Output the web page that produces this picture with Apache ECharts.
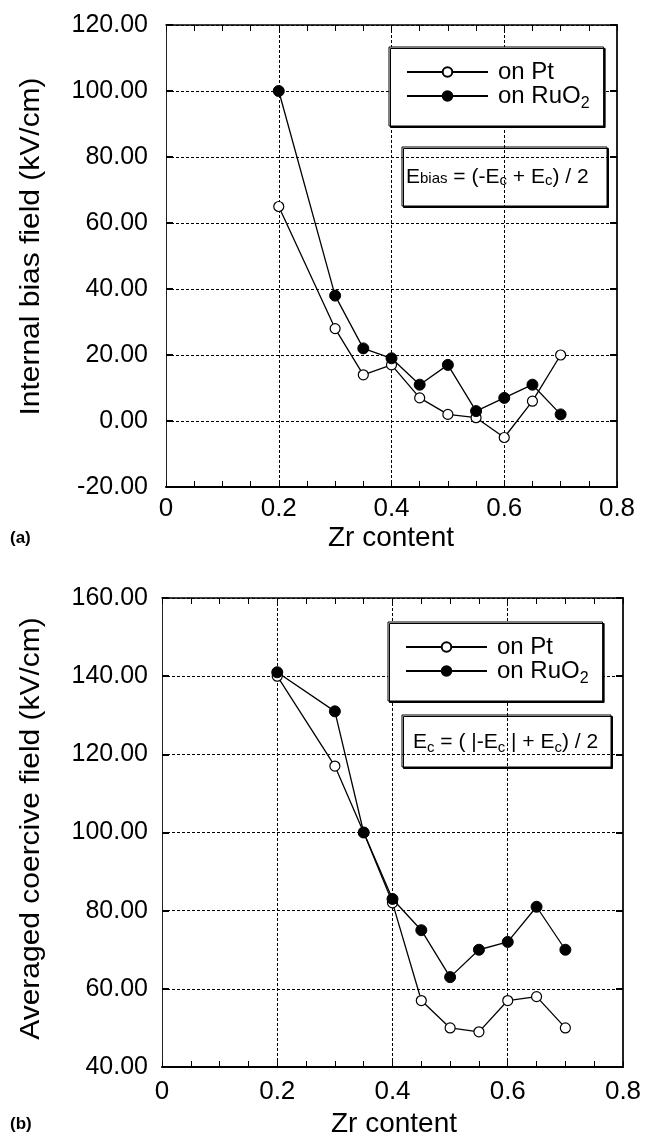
<!DOCTYPE html>
<html>
<head>
<meta charset="utf-8">
<script src="https://cdn.jsdelivr.net/npm/echarts@6/dist/echarts.min.js"></script>
<style>
  html, body { margin: 0; padding: 0; background: #fff; }
  #chart { width: 647px; height: 1143px; }
</style>
</head>
<body>
<div id="chart"></div>
<script>
// Zr content of the films
const zrContent = [0.2, 0.3, 0.35, 0.4, 0.45, 0.5, 0.55, 0.6, 0.65, 0.7];

// (a) internal bias field, kV/cm
const biasOnPt   = [65, 28, 14, 17, 7, 2, 1, -5, 6, 20];
const biasOnRuO2 = [100, 38, 22, 19, 11, 17, 3, 7, 11, 2];

// (b) averaged coercive field, kV/cm
const coerciveOnPt   = [140, 117, 100, 82, 57, 50, 49, 57, 58, 50];
const coerciveOnRuO2 = [141, 131, 100, 83, 75, 63, 70, 72, 81, 70];

// axis ranges and titles
const xRange = { min: 0, max: 0.8, interval: 0.2 };
const biasRange = { min: -20, max: 120, interval: 20 };
const coerciveRange = { min: 40, max: 160, interval: 20 };
const xTitle = 'Zr content';
const biasTitle = 'Internal bias field (kV/cm)';
const coerciveTitle = 'Averaged coercive field (kV/cm)';
const seriesNames = ['on Pt', 'on RuO2'];

const FONT = "'Liberation Sans', Arial, Helvetica, sans-serif";
const pairs = (xs, ys) => xs.map((x, i) => [x, ys[i]]);
const grid = { type: [3, 2], color: '#000', width: 1 };

function xAxes(g, labelMargin) {
  return [
    {
      type: 'value', gridIndex: g, position: 'bottom',
      min: xRange.min, max: xRange.max, interval: xRange.interval,
      axisLine: { show: true, onZero: false, lineStyle: { color: '#000', width: 2 } },
      axisTick: { show: true, inside: true, length: 6, lineStyle: { color: '#000', width: 1 } },
      minorTick: { show: true, splitNumber: 4, length: 6, lineStyle: { color: '#000', width: 1 } },
      axisLabel: {
        color: '#000', fontSize: 26, fontFamily: FONT, margin: labelMargin,
        formatter: v => (v === 0 ? '0' : v.toFixed(1))
      },
      splitLine: { show: true, lineStyle: grid }
    },
    {
      type: 'value', gridIndex: g, position: 'top',
      min: xRange.min, max: xRange.max, interval: xRange.interval,
      axisLine: { show: true, onZero: false, lineStyle: { color: '#000', width: 1.5 } },
      axisTick: { show: true, inside: true, length: 6, lineStyle: { color: '#000', width: 1 } },
      minorTick: { show: true, splitNumber: 4, length: 6, lineStyle: { color: '#000', width: 1 } },
      axisLabel: { show: false },
      splitLine: { show: false }
    }
  ];
}

function yAxes(g, range, labelMargin) {
  return [
    {
      type: 'value', gridIndex: g, position: 'left',
      min: range.min, max: range.max, interval: range.interval,
      axisLine: { show: true, onZero: false, lineStyle: { color: '#222', width: 1 } },
      axisTick: { show: true, inside: true, length: 7, lineStyle: { color: '#000', width: 2 } },
      axisLabel: {
        color: '#000', fontSize: 25, fontFamily: FONT, margin: labelMargin,
        formatter: v => v.toFixed(2)
      },
      splitLine: { show: true, lineStyle: grid }
    },
    {
      type: 'value', gridIndex: g, position: 'right',
      min: range.min, max: range.max, interval: range.interval,
      axisLine: { show: true, onZero: false, lineStyle: { color: '#222', width: 2 } },
      axisTick: { show: true, inside: true, length: 7, lineStyle: { color: '#000', width: 2 } },
      axisLabel: { show: false },
      splitLine: { show: false }
    }
  ];
}

function openSeries(name, axisIdx, data) {
  return {
    type: 'line', name, xAxisIndex: axisIdx, yAxisIndex: axisIdx, data,
    symbol: 'circle', symbolSize: 10,
    itemStyle: { color: '#fff', borderColor: '#000', borderWidth: 1.2 },
    lineStyle: { color: '#000', width: 1.3 },
    emphasis: { disabled: true }, z: 3
  };
}
function filledSeries(name, axisIdx, data) {
  return {
    type: 'line', name, xAxisIndex: axisIdx, yAxisIndex: axisIdx, data,
    symbol: 'circle', symbolSize: 11,
    itemStyle: { color: '#000', borderColor: '#000', borderWidth: 1 },
    lineStyle: { color: '#000', width: 1.3 },
    emphasis: { disabled: true }, z: 4
  };
}

function legendBox(left, top) {
  return {
    left, top, orient: 'vertical', selectedMode: false,
    data: seriesNames,
    itemWidth: 81, itemHeight: 12, itemGap: 0,
    padding: [13, 14, 14, 17],
    backgroundColor: '#fff', borderColor: '#000', borderWidth: 1,
    shadowColor: '#000', shadowOffsetX: 1.5, shadowOffsetY: 1.5, shadowBlur: 0,
    formatter: n => (n === 'on RuO2' ? 'on RuO{sub|2}' : n),
    textStyle: {
      color: '#000', fontSize: 24, fontFamily: FONT, lineHeight: 24, padding: [0, 0, 0, 5],
      rich: { sub: { fontSize: 16, fontFamily: FONT, color: '#000', lineHeight: 24, verticalAlign: 'top', padding: [12, 0, 0, 0] } }
    }
  };
}

function formulaBox(x, y, w, h, text, tx, ty, subPad, smallPad) {
  return {
    type: 'group', z: 100,
    children: [
      {
        type: 'rect', shape: { x, y, width: w, height: h },
        style: { fill: '#fff', stroke: '#000', lineWidth: 1, shadowColor: '#000', shadowOffsetX: 1.5, shadowOffsetY: 1.5, shadowBlur: 0 }
      },
      {
        type: 'text', x: tx, y: ty,
        style: {
          text, fill: '#000', fontSize: 21, fontFamily: FONT, lineHeight: 24,
          align: 'left', textAlign: 'left', verticalAlign: 'middle', textVerticalAlign: 'middle',
          rich: {
            s: { fontSize: 15, fontFamily: FONT, fill: '#000', lineHeight: 24, verticalAlign: 'top', padding: [subPad, 0, 0, 0] },
            w: { fontSize: 15, fontFamily: FONT, fill: '#000', lineHeight: 24, verticalAlign: 'top', padding: [smallPad, 0, 0, 0] }
          }
        }
      }
    ]
  };
}

function textAt(x, y, text, size, opts = {}) {
  return Object.assign({
    type: 'text', x, y, z: 100,
    style: {
      text, fill: '#000', fontSize: size, fontFamily: FONT, fontWeight: opts.bold ? 'bold' : 'normal',
      align: opts.align || 'center', textAlign: opts.align || 'center',
      verticalAlign: 'middle', textVerticalAlign: 'middle'
    }
  }, opts.transform || {});
}

const chart = echarts.init(document.getElementById('chart'), null, { renderer: 'canvas' });

chart.setOption({
  animation: false,
  backgroundColor: '#fff',
  grid: [
    { left: 166, top: 25, width: 451, height: 462 },
    { left: 162, top: 598, width: 461, height: 469 }
  ],
  xAxis: [...xAxes(0, 9), ...xAxes(1, 12)],
  yAxis: [...yAxes(0, biasRange, 18), ...yAxes(1, coerciveRange, 14)],
  legend: [legendBox(389, 47), legendBox(388, 622)],
  series: [
    openSeries('on Pt', 0, pairs(zrContent, biasOnPt)),
    filledSeries('on RuO2', 0, pairs(zrContent, biasOnRuO2)),
    openSeries('on Pt', 2, pairs(zrContent, coerciveOnPt)),
    filledSeries('on RuO2', 2, pairs(zrContent, coerciveOnRuO2))
  ],
  graphic: [
    formulaBox(402, 147, 205, 59, 'E{w|bias} = (-E{s|c} + E{s|c}) / 2', 406, 177, 8, 6),
    formulaBox(402, 715, 209, 52, 'E{s|c} = ( |-E{s|c} | + E{s|c}) / 2', 413, 742, 10, 8),
    textAt(31.5, 246.5, biasTitle, 27, { transform: { rotation: Math.PI / 2, scaleX: 1.11 } }),
    textAt(31.5, 828.5, coerciveTitle, 27, { transform: { rotation: Math.PI / 2, scaleX: 1.11 } }),
    textAt(391, 538, xTitle, 28),
    textAt(394, 1124, xTitle, 28),
    textAt(10, 538, '(a)', 17, { bold: true, align: 'left' }),
    textAt(10, 1124, '(b)', 17, { bold: true, align: 'left' })
  ]
});
</script>
</body>
</html>
